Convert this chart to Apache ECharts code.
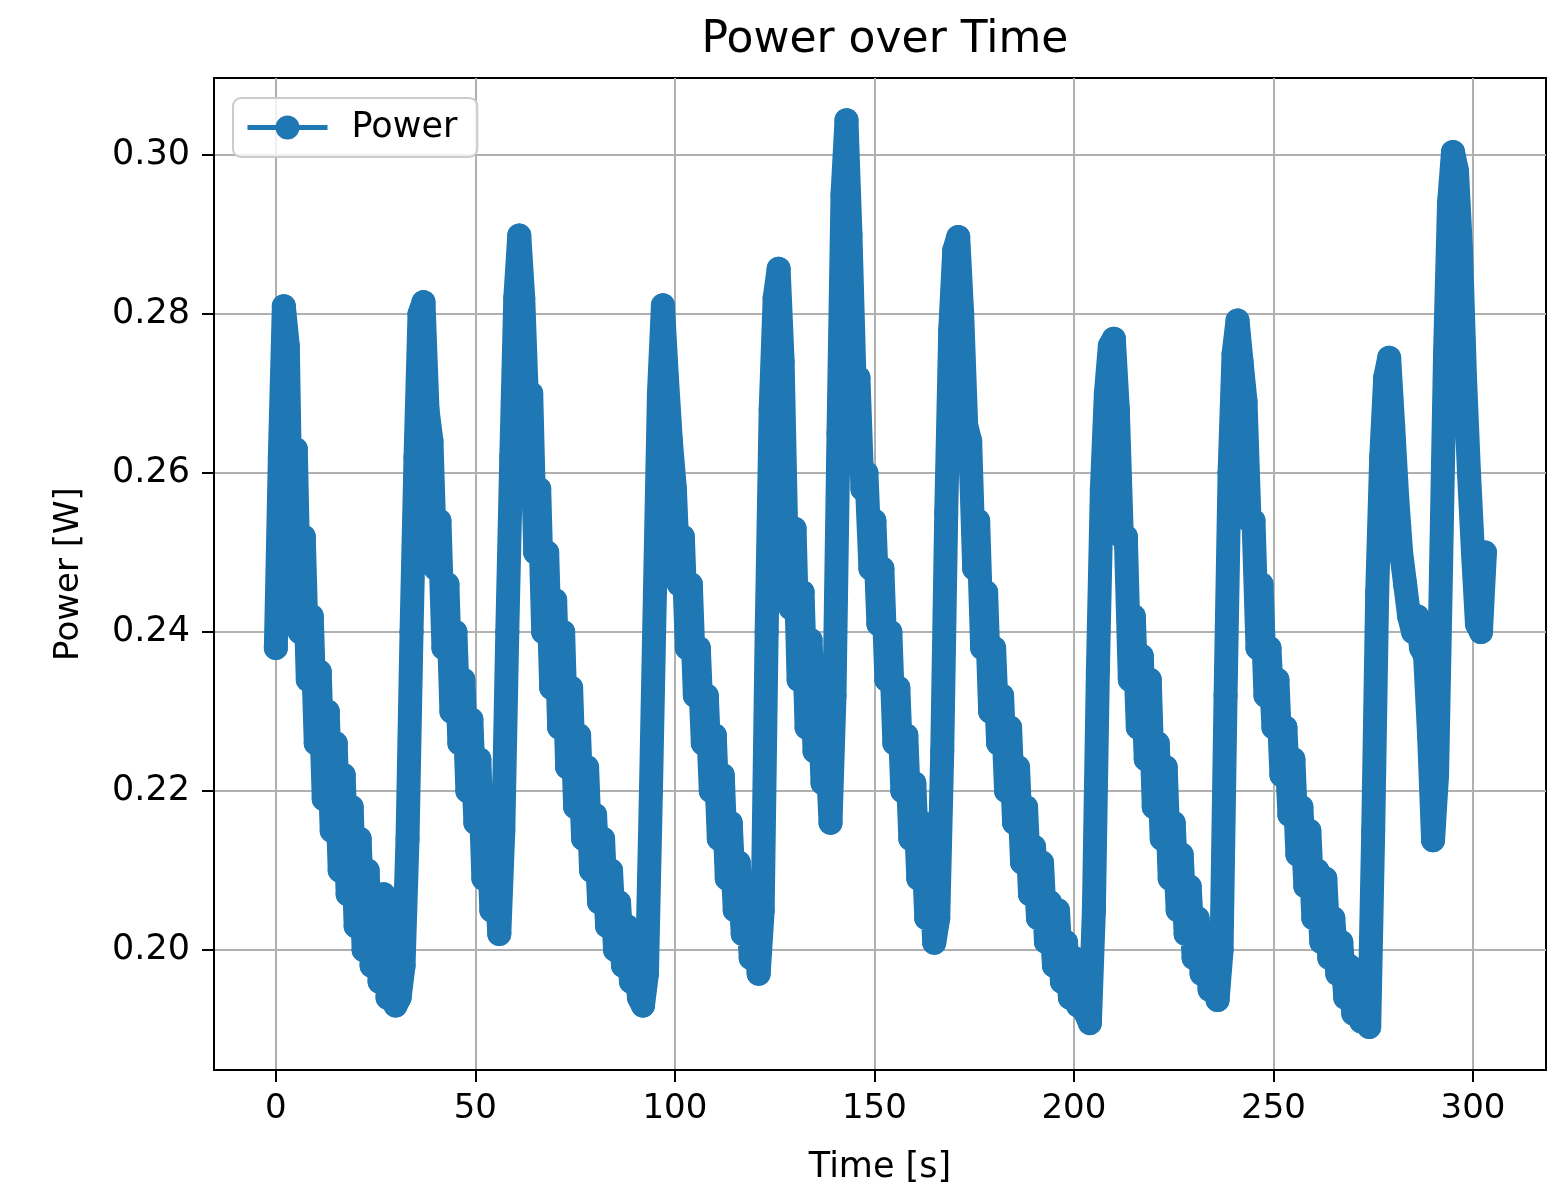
<!DOCTYPE html>
<html>
<head>
<meta charset="utf-8">
<script src="https://cdn.jsdelivr.net/npm/echarts@6/dist/echarts.min.js"></script>
<style>
html,body{margin:0;padding:0;background:#fff;}
#chart{width:1568px;height:1185px;}
</style>
</head>
<body>
<div id="chart"></div>
<script>
// Time samples in seconds
const timeSec = [];
for (let i = 0; i <= 303; i++) timeSec.push(i);

// Power readings [W], one per second
const powerW = [
  0.238, 0.262, 0.281, 0.276, 0.246, 0.263, 0.240, 0.252, 0.234, 0.242,   // 0-9
  0.226, 0.235, 0.219, 0.230, 0.215, 0.226, 0.210, 0.222, 0.207, 0.218,   // 10-19
  0.203, 0.214, 0.200, 0.210, 0.198, 0.207, 0.196, 0.207, 0.194, 0.201,   // 20-29
  0.193, 0.194, 0.198, 0.214, 0.240, 0.262, 0.280, 0.2815, 0.268, 0.264,  // 30-39
  0.248, 0.254, 0.238, 0.246, 0.230, 0.240, 0.226, 0.234, 0.220, 0.229,   // 40-49
  0.216, 0.224, 0.209, 0.218, 0.205, 0.211, 0.202, 0.215, 0.240, 0.262,   // 50-59
  0.282, 0.2899, 0.282, 0.268, 0.270, 0.250, 0.258, 0.240, 0.250, 0.233,  // 60-69
  0.244, 0.228, 0.240, 0.223, 0.233, 0.218, 0.227, 0.214, 0.223, 0.210,   // 70-79
  0.217, 0.206, 0.214, 0.203, 0.210, 0.200, 0.206, 0.198, 0.203, 0.196,   // 80-89
  0.200, 0.194, 0.193, 0.197, 0.220, 0.245, 0.270, 0.2811, 0.272, 0.264,  // 90-99
  0.258, 0.246, 0.252, 0.238, 0.246, 0.232, 0.238, 0.226, 0.232, 0.220,   // 100-109
  0.227, 0.214, 0.222, 0.209, 0.216, 0.205, 0.211, 0.202, 0.208, 0.199,   // 110-119
  0.203, 0.197, 0.205, 0.240, 0.268, 0.282, 0.2857, 0.274, 0.250, 0.243,  // 120-129
  0.253, 0.234, 0.245, 0.228, 0.239, 0.225, 0.234, 0.221, 0.227, 0.216,   // 130-139
  0.232, 0.265, 0.295, 0.3044, 0.290, 0.272, 0.272, 0.258, 0.260, 0.248,  // 140-149
  0.254, 0.241, 0.248, 0.234, 0.240, 0.226, 0.233, 0.220, 0.227, 0.214,   // 150-159
  0.221, 0.209, 0.216, 0.204, 0.210, 0.2009, 0.204, 0.225, 0.255, 0.278,  // 160-169
  0.288, 0.2897, 0.280, 0.266, 0.264, 0.248, 0.254, 0.238, 0.245, 0.230,  // 170-179
  0.238, 0.226, 0.232, 0.220, 0.228, 0.216, 0.223, 0.211, 0.218, 0.207,   // 180-189
  0.213, 0.204, 0.211, 0.201, 0.206, 0.198, 0.205, 0.196, 0.201, 0.194,   // 190-199
  0.199, 0.193, 0.196, 0.192, 0.1908, 0.205, 0.235, 0.258, 0.270, 0.276,  // 200-209
  0.2769, 0.268, 0.252, 0.252, 0.234, 0.242, 0.228, 0.237, 0.224, 0.234, // 210-219
  0.218, 0.226, 0.214, 0.223, 0.209, 0.216, 0.205, 0.212, 0.202, 0.208,   // 220-229
  0.199, 0.204, 0.197, 0.201, 0.195, 0.198, 0.1937, 0.200, 0.232, 0.260, // 230-239
  0.275, 0.2792, 0.274, 0.269, 0.254, 0.254, 0.238, 0.246, 0.232, 0.238, // 240-249
  0.228, 0.234, 0.222, 0.228, 0.217, 0.224, 0.212, 0.218, 0.208, 0.215,   // 250-259
  0.204, 0.210, 0.201, 0.209, 0.199, 0.204, 0.197, 0.201, 0.194, 0.198,   // 260-269
  0.192, 0.196, 0.191, 0.192, 0.1903, 0.215, 0.245, 0.262, 0.272, 0.2745, // 270-279
  0.266, 0.257, 0.250, 0.246, 0.242, 0.240, 0.242, 0.238, 0.237, 0.227,   // 280-289
  0.2138, 0.222, 0.248, 0.275, 0.294, 0.3004, 0.298, 0.288, 0.272, 0.260, // 290-299
  0.250, 0.241, 0.240, 0.250                                              // 300-303
];

const xTicks = [0, 50, 100, 150, 200, 250, 300];
const yTicks = [0.20, 0.22, 0.24, 0.26, 0.28, 0.30];

const seriesData = timeSec.map((t, i) => [t, powerW[i]]);

const FONT = 'DejaVu Sans';
const BLUE = '#1f77b4';
const chart = echarts.init(document.getElementById('chart'), null, {renderer: 'canvas'});
chart.setOption({
  animation: false,
  backgroundColor: '#ffffff',
  title: {
    text: 'Power over Time',
    left: 880,
    textAlign: 'center',
    top: 14,
    textStyle: {fontFamily: FONT, fontSize: 44, fontWeight: 'normal', color: '#000'}
  },
  legend: {
    show: true,
    left: 233,
    top: 98,
    orient: 'vertical',
    data: ['Power'],
    itemWidth: 80,
    itemHeight: 30,
    padding: [12, 20, 12, 12],
    backgroundColor: 'rgba(255,255,255,0.8)',
    borderColor: '#cccccc',
    borderWidth: 2,
    borderRadius: 8,
    lineStyle: {width: 5, color: BLUE, cap: 'butt'},
    itemStyle: {color: BLUE},
    textStyle: {fontFamily: FONT, fontSize: 35, color: '#000', padding: [0, 0, 0, 19]}
  },
  grid: {
    left: 214, right: 22, top: 78, bottom: 115,
    outerBoundsMode: 'none',
    containLabel: false,
    show: true, borderColor: '#000', borderWidth: 2, backgroundColor: 'transparent'
  },
  xAxis: {
    type: 'value',
    min: -15.5,
    max: 318.3,
    name: 'Time [s]',
    nameLocation: 'middle',
    nameGap: 80,
    nameTextStyle: {fontFamily: FONT, fontSize: 35, color: '#000'},
    axisLine: {show: true, onZero: false, lineStyle: {color: '#000', width: 2}},
    axisTick: {show: true, customValues: xTicks, length: 12, lineStyle: {color: '#000', width: 2}},
    axisLabel: {customValues: xTicks, margin: 22, fontFamily: FONT, fontSize: 34, color: '#000'},
    splitLine: {show: true, lineStyle: {color: '#b0b0b0', width: 2}}
  },
  yAxis: {
    type: 'value',
    min: 0.1849,
    max: 0.3097,
    name: 'Power [W]',
    nameLocation: 'middle',
    nameGap: 128,
    nameRotate: 90,
    nameTextStyle: {fontFamily: FONT, fontSize: 34, color: '#000'},
    axisLine: {show: true, onZero: false, lineStyle: {color: '#000', width: 2}},
    axisTick: {show: true, customValues: yTicks, length: 12, lineStyle: {color: '#000', width: 2}},
    axisLabel: {customValues: yTicks, margin: 24, fontFamily: FONT, fontSize: 35, color: '#000',
      formatter: v => v.toFixed(2)},
    splitLine: {show: true, lineStyle: {color: '#b0b0b0', width: 2}}
  },
  series: [{
    name: 'Power',
    type: 'line',
    data: seriesData,
    symbol: 'circle',
    symbolSize: 24,
    showSymbol: true,
    showAllSymbol: true,
    silent: true,
    color: BLUE,
    lineStyle: {color: BLUE, width: 24, cap: 'round', join: 'round'},
    itemStyle: {color: BLUE, opacity: 1},
    emphasis: {disabled: true}
  }]
});
</script>
</body>
</html>
